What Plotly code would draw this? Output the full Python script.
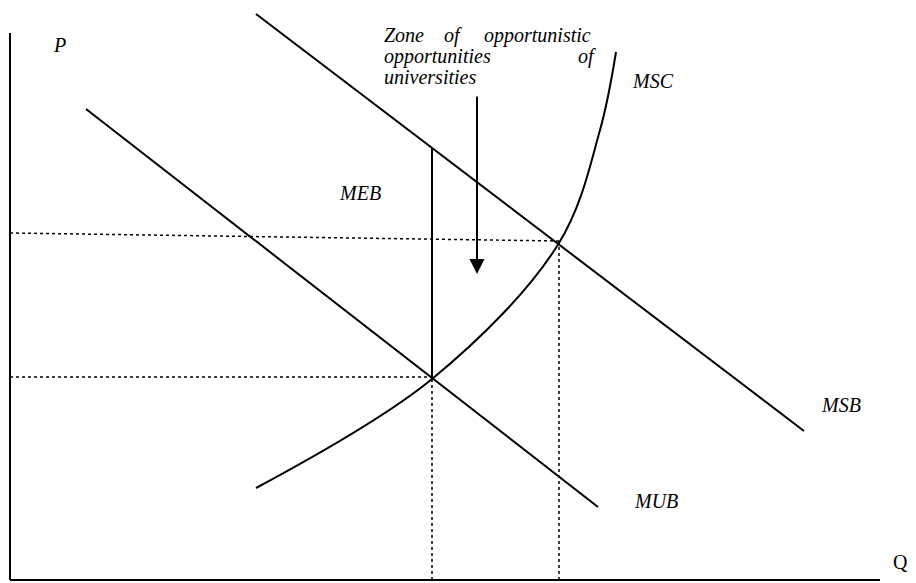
import plotly.graph_objects as go


# ==================================
# DIAGRAM DATA (Q across, P up, origin at axis corner)
# ==================================

mub_q = [76, 588]
mub_p = [471, 73]

msb_q = [246, 794]
msb_p = [566, 149]

msc_q = [246, 422, 549, 590, 606]
msc_p = [92, 201, 337, 450, 528]

# private optimum (MUB = MSC) and social optimum (MSB = MSC)
q_private = 422
p_private = 203
q_social = 549
p_social_left = 347
p_social_right = 339

# external benefit gap at the private quantity
meb_q = [422, 422]
meb_p = [201, 432]

# arrow pointing into the zone
arrow_q = 467
arrow_tail_p = 485
arrow_tip_p = 306

axis_q_max = 870
axis_p_max = 547


FONT = "Liberation Serif"


def add_line(fig, x, y, width=2, dash="solid", shape="linear"):
    fig.add_trace(go.Scatter(
        x=x, y=y,
        mode="lines",
        line=dict(color="black", width=width, dash=dash, shape=shape),
        hoverinfo="skip"
    ))


def add_label(fig, text, x, y, anchor="center", size=20):
    fig.add_annotation(
        x=x, y=y,
        text=text,
        showarrow=False,
        xanchor=anchor,
        yanchor="middle",
        font=dict(family=FONT, size=size, color="black")
    )


fig = go.Figure()

# ==================================
# AXES
# ==================================

add_line(fig, [0, 0], [0, axis_p_max])
add_line(fig, [0, axis_q_max], [0, 0])

# ==================================
# DOTTED GUIDES
# ==================================

add_line(fig, [0, q_social], [p_social_left, p_social_right], width=1.5, dash="dot")
add_line(fig, [q_social, q_social], [0, p_social_right], width=1.5, dash="dot")
add_line(fig, [0, q_private], [p_private, p_private], width=1.5, dash="dot")
add_line(fig, [q_private, q_private], [0, p_private], width=1.5, dash="dot")

# ==================================
# CURVES
# ==================================

add_line(fig, mub_q, mub_p)
add_line(fig, msb_q, msb_p)
add_line(fig, msc_q, msc_p, shape="spline")
add_line(fig, meb_q, meb_p)

fig.add_annotation(
    x=arrow_q, y=arrow_tip_p,
    ax=arrow_q, ay=arrow_tail_p,
    xref="x", yref="y", axref="x", ayref="y",
    text="",
    showarrow=True,
    arrowhead=2,
    arrowwidth=2,
    arrowsize=1.5,
    arrowcolor="black",
    standoff=0
)

# ==================================
# LABELS
# ==================================

add_label(fig, "<i>P</i>", 49, 535)
add_label(fig, "<i>MSC</i>", 643, 499)
add_label(fig, "<i>MEB</i>", 350, 387)
add_label(fig, "<i>MSB</i>", 831, 175)
add_label(fig, "<i>MUB</i>", 646, 79)
add_label(fig, "Q", 890, 18)

add_label(fig, "<i>Zone</i>", 372, 545, anchor="left")
add_label(fig, "<i>of</i>", 432, 545, anchor="left")
add_label(fig, "<i>opportunistic</i>", 583, 545, anchor="right")
add_label(fig, "<i>opportunities</i>", 372, 524, anchor="left")
add_label(fig, "<i>of</i>", 588, 524, anchor="right")
add_label(fig, "<i>universities</i>", 372, 503, anchor="left")

fig.update_layout(
    width=916,
    height=583,
    margin=dict(l=0, r=0, t=0, b=0),
    paper_bgcolor="white",
    plot_bgcolor="white",
    showlegend=False,
    xaxis=dict(range=[-10, 906], visible=False),
    yaxis=dict(range=[-3, 580], visible=False)
)

fig.write_html(
    "out.html",
    config={"displayModeBar": False},
    post_script="document.body.style.margin = '0';"
)
